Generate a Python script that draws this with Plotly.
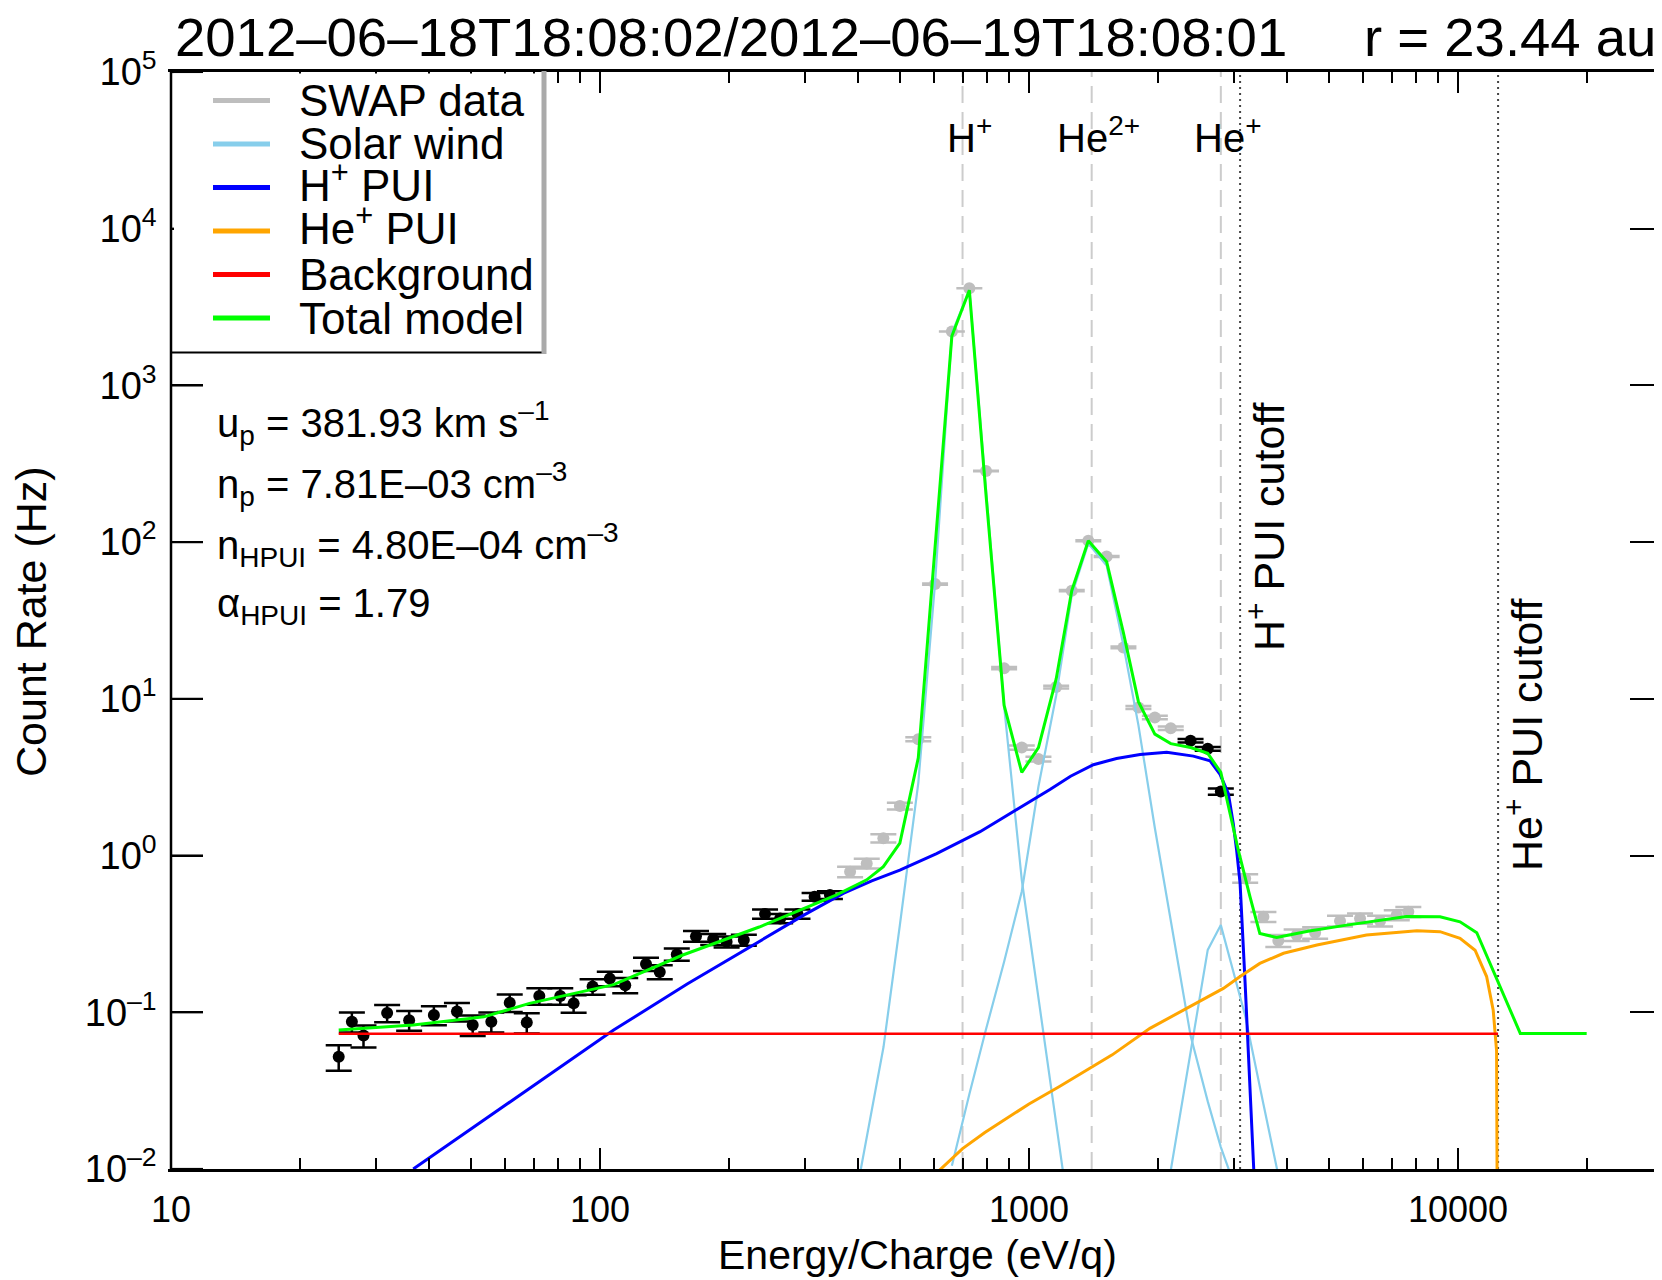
import math
import plotly.graph_objects as go

# ---------------- data ----------------
fit_energy = [24.6, 26.4, 28.1, 31.9, 35.9, 41.0, 46.4, 50.5, 55.8, 61.6, 67.5, 72.2, 80.8, 86.8,
              96.1, 105.4, 114.5, 128.0, 137.8, 151.0, 167.4, 183.6, 197.3, 216.4, 242.5, 263.0,
              288.6, 316.4, 343.5, 2380, 2610, 2800]
fit_rate = [0.052, 0.087, 0.071, 0.099, 0.089, 0.096, 0.101, 0.083, 0.087, 0.115, 0.086, 0.127,
            0.127, 0.114, 0.146, 0.164, 0.149, 0.203, 0.181, 0.234, 0.306, 0.292, 0.282, 0.289,
            0.424, 0.397, 0.424, 0.546, 0.560, 5.4, 4.8, 2.56]
fit_err = [0.0097, 0.0128, 0.0115, 0.0125, 0.0129, 0.0134, 0.0138, 0.0125, 0.0128, 0.0147, 0.0127,
           0.0154, 0.0154, 0.0146, 0.0165, 0.0175, 0.0167, 0.0195, 0.0184, 0.0209, 0.024, 0.0234,
           0.023, 0.0233, 0.0282, 0.0273, 0.0282, 0.032, 0.0324, 0.14, 0.13, 0.12]

other_energy = [382.8, 418.6, 457.6, 500.0, 552.0, 604.0, 661.0, 726.0, 794.0, 875.0, 962.0, 1052,
                1157, 1258, 1375, 1517, 1660, 1799, 1965, 2140, 3191, 3519, 3812, 4206, 4645, 5309,
                5911, 6583, 7199, 7660]
other_rate = [0.788, 0.891, 1.29, 2.07, 5.53, 54.0, 2208, 4167, 284, 15.7, 4.89, 4.13, 11.9, 49.0,
              102, 81.0, 21.3, 8.8, 7.6, 6.5, 0.715, 0.407, 0.286, 0.311, 0.322, 0.383, 0.397,
              0.383, 0.417, 0.438]
other_err = [0.06, 0.065, 0.08, 0.1, 0.16, 0.5, 3.0, 4.0, 1.1, 0.27, 0.15, 0.14, 0.24, 0.45, 0.65,
             0.6, 0.3, 0.2, 0.19, 0.17, 0.045, 0.03, 0.025, 0.026, 0.027, 0.03, 0.03, 0.03, 0.031,
             0.032]

sw_h_energy = [405, 458, 500, 552, 604, 661, 726, 794, 875, 962, 1052, 1199]
sw_h_rate = [0.0098, 0.06, 0.36, 2.9, 55, 2150, 4050, 220, 9.0, 0.7, 0.12, 0.0098]

sw_he2_energy = [661, 726, 794, 875, 962, 1052, 1157, 1258, 1375, 1517, 1660, 1799, 1965, 2140,
                 2380, 2610, 2800, 2960]
sw_he2_rate = [0.0105, 0.03, 0.078, 0.21, 0.59, 2.76, 10.5, 46, 98, 71, 22, 6.8, 1.5, 0.385,
               0.071, 0.027, 0.0138, 0.009]

sw_he1_energy = [2140, 2380, 2610, 2800, 3191, 3519, 3800]
sw_he1_rate = [0.0098, 0.057, 0.25, 0.36, 0.095, 0.026, 0.0095]

hpui_energy = [36.7, 45, 53.6, 75, 107.6, 160, 235, 300, 369, 430, 500, 609, 769, 935, 1030, 1119,
               1250, 1413, 1600, 1815, 2094, 2416, 2643, 2788, 2915, 2994, 3048, 3105, 3190, 3275,
               3342]
hpui_rate = [0.01, 0.0147, 0.0207, 0.039, 0.077, 0.152, 0.285, 0.42, 0.574, 0.69, 0.807, 1.03,
             1.42, 1.95, 2.3, 2.64, 3.21, 3.80, 4.16, 4.42, 4.57, 4.31, 4.02, 3.30, 2.49, 1.59,
             1.08, 0.665, 0.153, 0.035, 0.0098]

hepui_energy = [618, 700, 789, 1000, 1175, 1563, 1914, 2372, 2594, 2838, 3105, 3452, 3920, 4690,
                6120, 8020, 9080, 10110, 10960, 11660, 12080, 12300, 12420]
hepui_rate = [0.0098, 0.0135, 0.0171, 0.026, 0.0335, 0.0535, 0.079, 0.108, 0.124, 0.142, 0.169,
              0.205, 0.238, 0.269, 0.311, 0.331, 0.327, 0.296, 0.249, 0.169, 0.103, 0.057, 0.0001]

bg_energy = [24.6, 12400]
bg_rate = [0.073, 0.073]

total_energy = [24.6, 36.7, 53.6, 68.5, 107.6, 156, 235, 355, 418.6, 457.6, 500, 552, 661, 726,
                794, 875, 962, 1052, 1157, 1258, 1375, 1517, 1660, 1799, 1965, 2140, 2380, 2610,
                2800, 3076, 3275, 3452, 3779, 4500, 5500, 6500, 7580, 9080, 10110, 11060, 13970,
                19950]
total_rate = [0.077, 0.083, 0.0935, 0.114, 0.15, 0.232, 0.35, 0.56, 0.70, 0.85, 1.2, 4.2, 2065,
              4054, 200, 9.08, 3.39, 4.89, 13.4, 49, 102, 74.9, 26.4, 9.6, 5.96, 5.18, 4.89, 4.49,
              3.39, 1.08, 0.546, 0.318, 0.30, 0.33, 0.36, 0.385, 0.408, 0.407, 0.378, 0.322,
              0.0733, 0.0733]

ion_energy = [700, 1400, 2800]
ion_labels = ["H<sup>+</sup>", "He<sup>2+</sup>", "He<sup>+</sup>"]
cutoff_energy = [3105, 12400]
cutoff_labels = ["H<sup>+</sup> PUI cutoff", "He<sup>+</sup> PUI cutoff"]

x_tickvals = [10, 100, 1000, 10000]
x_ticktext = ["10", "100", "1000", "10000"]
x_minor = [20, 30, 40, 50, 60, 70, 80, 90, 200, 300, 400, 500, 600, 700, 800, 900,
           2000, 3000, 4000, 5000, 6000, 7000, 8000, 9000, 20000]
y_tickvals = [1e-2, 1e-1, 1e0, 1e1, 1e2, 1e3, 1e4, 1e5]
y_ticktext = ["10<sup>–2</sup>", "10<sup>–1</sup>", "10<sup>0</sup>", "10<sup>1</sup>",
              "10<sup>2</sup>", "10<sup>3</sup>", "10<sup>4</sup>", "10<sup>5</sup>"]

title_left = "2012–06–18T18:08:02/2012–06–19T18:08:01"
title_right = "r = 23.44 au"
param_lines = ["u<sub>p</sub> = 381.93 km s<sup>–1</sup>",
               "n<sub>p</sub> = 7.81E–03 cm<sup>–3</sup>",
               "n<sub>HPUI</sub> = 4.80E–04 cm<sup>–3</sup>",
               "α<sub>HPUI</sub> = 1.79"]
legend_names = ["SWAP data", "Solar wind", "H<sup>+</sup> PUI", "He<sup>+</sup> PUI",
                "Background", "Total model"]

# ---------------- styling / layout ----------------
FONT = "Liberation Sans, Arial, sans-serif"
OFF = 8                      # the page body margin offsets the figure by 8 px
W, H = 1662 - OFF, 1280 - OFF
X0, X1, Y0, Y1 = 171, 1662, 72, 1169   # plot area in screen pixels
L, R, T, B = X0 - OFF, 0, Y0 - OFF, H - (Y1 - OFF)
PW, PH = X1 - X0, Y1 - Y0
YR = [-2, 5]
C_GRAY = "#BEBEBE"
C_SKY = "#87CEEB"
C_BLUE = "#0000FF"
C_ORANGE = "#FFA500"
C_RED = "#FF0000"
C_GREEN = "#00FF00"
legend_colors = [C_GRAY, C_SKY, C_BLUE, C_ORANGE, C_RED, C_GREEN]


def px(x):
    return (x - X0) / PW


def py(y):
    return (Y1 - y) / PH


fig = go.Figure()

# reference lines
for e in ion_energy:
    fig.add_trace(go.Scatter(x=[e, e], y=[1e-2, 1e5], mode="lines",
                             line=dict(color="#CCCCCC", width=2, dash="17px,9px"),
                             hoverinfo="skip", showlegend=False))
for e in cutoff_energy:
    fig.add_trace(go.Scatter(x=[e, e], y=[1e-2, 1e5], mode="lines",
                             line=dict(color="#444444", width=2, dash="2px,4px"),
                             hoverinfo="skip", showlegend=False))

# data
fig.add_trace(go.Scatter(x=other_energy, y=other_rate, mode="markers",
                         marker=dict(color=C_GRAY, size=12),
                         error_y=dict(type="data", array=other_err, color=C_GRAY,
                                      thickness=2.5, width=13),
                         showlegend=False, name="SWAP data"))
fig.add_trace(go.Scatter(x=fit_energy, y=fit_rate, mode="markers",
                         marker=dict(color="black", size=12),
                         error_y=dict(type="data", array=fit_err, color="black",
                                      thickness=2.5, width=13),
                         showlegend=False, name="SWAP data (fit)"))

# model components
for ex, ry in [(sw_h_energy, sw_h_rate), (sw_he2_energy, sw_he2_rate), (sw_he1_energy, sw_he1_rate)]:
    fig.add_trace(go.Scatter(x=ex, y=ry, mode="lines", line=dict(color=C_SKY, width=2.2),
                             showlegend=False, name="Solar wind"))
fig.add_trace(go.Scatter(x=hpui_energy, y=hpui_rate, mode="lines",
                         line=dict(color=C_BLUE, width=3), showlegend=False, name="H+ PUI"))
fig.add_trace(go.Scatter(x=hepui_energy, y=hepui_rate, mode="lines",
                         line=dict(color=C_ORANGE, width=3), showlegend=False, name="He+ PUI"))
fig.add_trace(go.Scatter(x=bg_energy, y=bg_rate, mode="lines",
                         line=dict(color=C_RED, width=2.5), showlegend=False, name="Background"))
fig.add_trace(go.Scatter(x=total_energy, y=total_rate, mode="lines",
                         line=dict(color=C_GREEN, width=3), showlegend=False, name="Total model"))

shapes = []
annotations = []

# left-axis major ticks (pointing into the plot)
for v in y_tickvals:
    yf = (math.log10(v) - YR[0]) / (YR[1] - YR[0])
    shapes.append(dict(type="line", xref="paper", yref="paper", layer="above",
                       x0=0, x1=px(X0 + 32), y0=yf, y1=yf,
                       line=dict(color="black", width=2.2)))

# legend box (manual)
shapes.append(dict(type="rect", xref="paper", yref="paper", layer="above",
                   x0=px(174), x1=px(542), y0=py(352), y1=py(73.5),
                   fillcolor="white", line=dict(width=0)))
shapes.append(dict(type="line", xref="paper", yref="paper", layer="above",
                   x0=px(171), x1=px(542), y0=py(352.5), y1=py(352.5),
                   line=dict(color="black", width=2)))
shapes.append(dict(type="line", xref="paper", yref="paper", layer="above",
                   x0=px(544), x1=px(544), y0=py(71), y1=py(354),
                   line=dict(color="#AAAAAA", width=5)))
# left axis line
shapes.append(dict(type="line", xref="paper", yref="paper", layer="above",
                   x0=0, x1=0, y0=0, y1=1, line=dict(color="black", width=2.5)))

legend_dy = [0, 0, -5, -5, 0, 0]
for i, (name, col) in enumerate(zip(legend_names, legend_colors)):
    yy = 100.5 + 43.5 * i
    shapes.append(dict(type="line", xref="paper", yref="paper", layer="above",
                       x0=px(213), x1=px(270), y0=py(yy), y1=py(yy),
                       line=dict(color=col, width=5)))
    annotations.append(dict(text=name, xref="paper", yref="paper", x=px(297), y=py(yy + legend_dy[i]),
                            xanchor="left", yanchor="middle", showarrow=False,
                            font=dict(family=FONT, size=44, color="black")))

# parameter text
for i, t in enumerate(param_lines):
    yy = 423 + 61 * i
    annotations.append(dict(text=t, xref="paper", yref="paper", x=px(215), y=py(yy),
                            xanchor="left", yanchor="middle", showarrow=False,
                            font=dict(family=FONT, size=40, color="black")))

# ion labels
for e, t in zip(ion_energy, ion_labels):
    annotations.append(dict(text=t, xref="x", yref="paper", x=math.log10(e), y=py(135),
                            xanchor="center", yanchor="middle", xshift=7, showarrow=False,
                            font=dict(family=FONT, size=40, color="black")))
# cutoff labels
for e, t, yc in zip(cutoff_energy, cutoff_labels, [526, 734]):
    annotations.append(dict(text=t, xref="x", yref="paper", x=math.log10(e), y=py(yc),
                            xanchor="center", yanchor="middle", xshift=26, textangle=-90,
                            showarrow=False, font=dict(family=FONT, size=43, color="black")))

# title
annotations.append(dict(text=title_left, xref="paper", yref="paper", x=px(173), y=py(37),
                        xanchor="left", yanchor="middle", showarrow=False,
                        font=dict(family=FONT, size=54.5, color="black")))
annotations.append(dict(text=title_right, xref="paper", yref="paper", x=px(1362), y=py(37),
                        xanchor="left", yanchor="middle", showarrow=False,
                        font=dict(family=FONT, size=54.5, color="black")))
# axis titles
annotations.append(dict(text="Energy/Charge (eV/q)", xref="paper", yref="paper", x=px(917),
                        y=py(1255), xanchor="center", yanchor="middle", showarrow=False,
                        font=dict(family=FONT, size=41, color="black")))
annotations.append(dict(text="Count Rate (Hz)", xref="paper", yref="paper", x=px(31),
                        y=py(622), xanchor="center", yanchor="middle", textangle=-90,
                        showarrow=False, font=dict(family=FONT, size=43, color="black")))

fig.update_layout(
    width=W, height=H,
    margin=dict(l=L, r=R, t=T, b=B, pad=0, autoexpand=False),
    paper_bgcolor="white", plot_bgcolor="white",
    showlegend=False,
    shapes=shapes, annotations=annotations,
    font=dict(family=FONT, color="black"),
    xaxis=dict(type="log", range=[1, 1 + PW / 429.0], showgrid=False, zeroline=False,
               automargin=False,
               showline=True, linecolor="black", linewidth=2.5, mirror="ticks",
               ticks="inside", ticklen=21, tickwidth=2, tickcolor="black",
               tickmode="array", tickvals=x_tickvals, ticktext=x_ticktext,
               tickfont=dict(family=FONT, size=36, color="black"), ticklabelstandoff=7,
               minor=dict(ticks="inside", ticklen=11, tickwidth=1.5, tickcolor="black",
                          tickmode="array", tickvals=x_minor, showgrid=False)),
    yaxis=dict(type="log", range=YR, showgrid=False, zeroline=False,
               automargin=False,
               showline=True, linecolor="rgba(0,0,0,0)", linewidth=2.5, mirror="ticks",
               ticks="inside", ticklen=32, tickwidth=2, tickcolor="black",
               tickmode="array", tickvals=y_tickvals, ticktext=y_ticktext,
               tickfont=dict(family=FONT, size=38, color="black"), ticklabelstandoff=4),
)

fig.write_html("out.html")
